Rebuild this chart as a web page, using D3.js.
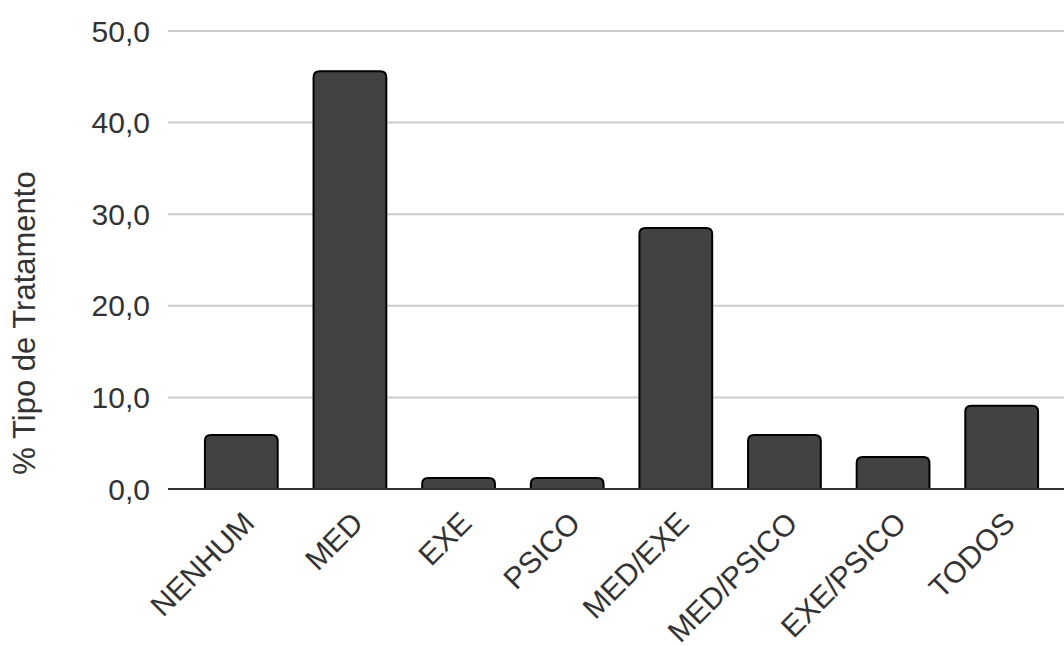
<!DOCTYPE html>
<html>
<head>
<meta charset="utf-8">
<script src="https://cdn.jsdelivr.net/npm/d3@7"></script>
<style>
  body { margin: 0; background: #fff; }
  text { font-family: 'Liberation Sans', Arial, sans-serif; fill: #333; }
</style>
</head>
<body>
<script>
var width = 1064
var height = 646

var categories = ['NENHUM', 'MED', 'EXE', 'PSICO', 'MED/EXE', 'MED/PSICO', 'EXE/PSICO', 'TODOS']
var values = [5.9, 45.6, 1.2, 1.2, 28.5, 5.9, 3.5, 9.1]
var yTicks = [0, 10, 20, 30, 40, 50]

var plotLeft = 168
var plotTop = 31
var plotBottom = 489

var svg = d3.select('body').append('svg')
  .attr('width', width)
  .attr('height', height)

var x = d3.scaleBand()
  .domain(categories)
  .range([187, 1056])
  .paddingInner(0.33)
  .paddingOuter(0.165)

var y = d3.scaleLinear()
  .domain([0, 50])
  .range([plotBottom, plotTop])

var fmt = function(d) { return d.toFixed(1).replace('.', ',') }

// gridlines + tick labels
var yAxis = svg.append('g')
yAxis.selectAll('line')
  .data(yTicks.filter(function(d) { return d > 0 }))
  .enter().append('line')
  .attr('x1', plotLeft)
  .attr('x2', width)
  .attr('y1', function(d) { return y(d) })
  .attr('y2', function(d) { return y(d) })
  .style('stroke', '#ccc')
  .style('stroke-width', 2)

yAxis.selectAll('text')
  .data(yTicks)
  .enter().append('text')
  .attr('x', 150)
  .attr('y', function(d) { return y(d) })
  .attr('dy', '0.35em')
  .attr('text-anchor', 'end')
  .style('font-size', '30px')
  .text(fmt)

// bars with rounded tops
var r = 6
svg.append('g').selectAll('path')
  .data(values)
  .enter().append('path')
  .attr('d', function(d, i) {
    var x0 = x(categories[i])
    var x1 = x0 + x.bandwidth()
    var yt = y(d)
    var yb = y(0)
    var rr = Math.min(r, (yb - yt))
    return 'M' + x0 + ',' + yb +
      'L' + x0 + ',' + (yt + rr) +
      'Q' + x0 + ',' + yt + ' ' + (x0 + rr) + ',' + yt +
      'L' + (x1 - rr) + ',' + yt +
      'Q' + x1 + ',' + yt + ' ' + x1 + ',' + (yt + rr) +
      'L' + x1 + ',' + yb + 'Z'
  })
  .style('fill', '#424242')
  .style('stroke', '#000')
  .style('stroke-width', 2)

// baseline
svg.append('line')
  .attr('x1', plotLeft)
  .attr('x2', width)
  .attr('y1', y(0))
  .attr('y2', y(0))
  .style('stroke', '#333')
  .style('stroke-width', 2)

// x labels, rotated
svg.append('g').selectAll('text')
  .data(categories)
  .enter().append('text')
  .attr('transform', function(d) {
    var cx = x(d) + x.bandwidth() / 2
    return 'translate(' + (cx - 1) + ',' + 509 + ') rotate(-45)'
  })
  .attr('text-anchor', 'end')
  .attr('dy', '0.75em')
  .style('font-size', '30px')
  .text(function(d) { return d })

// y title
svg.append('text')
  .attr('transform', 'translate(35,323) rotate(-90)')
  .attr('text-anchor', 'middle')
  .style('font-size', '31px')
  .text('% Tipo de Tratamento')
</script>
</body>
</html>
